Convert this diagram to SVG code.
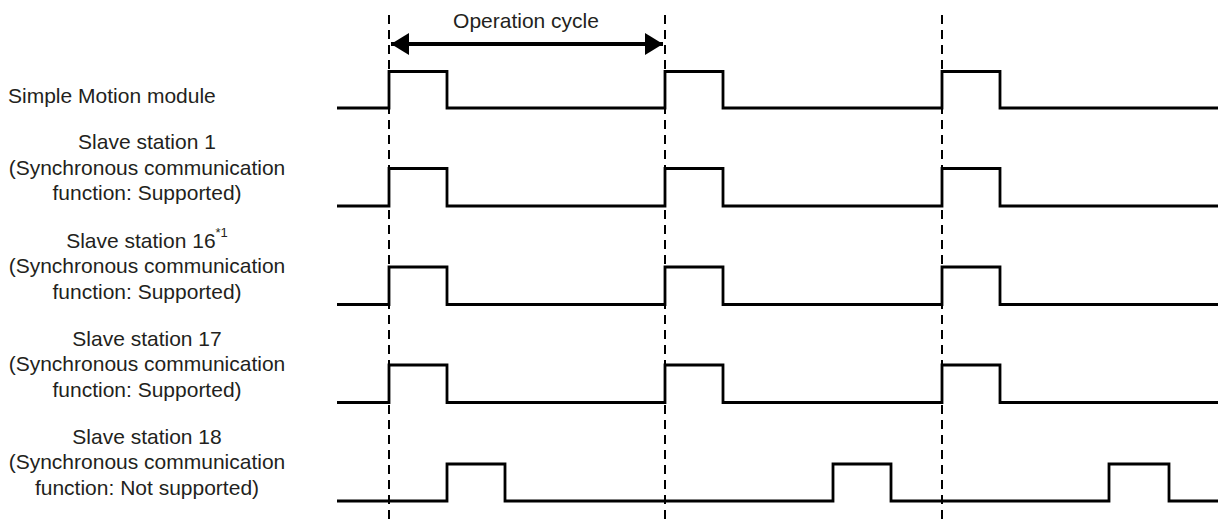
<svg xmlns="http://www.w3.org/2000/svg" width="1219" height="520" viewBox="0 0 1219 520">
<style>
.lbl{font-family:"Liberation Sans",Arial,sans-serif;font-size:21px;fill:#231f20}
.mid{text-anchor:middle}
.sig{fill:none;stroke:#000;stroke-width:2.8;stroke-linejoin:miter;stroke-linecap:butt}
.dash{fill:none;stroke:#000;stroke-width:2;stroke-dasharray:9 6}
.arr{stroke:#000;stroke-width:4}
</style>
<defs>
<marker id="ah" viewBox="0 0 18 22" refX="18" refY="11" markerWidth="18" markerHeight="22" markerUnits="userSpaceOnUse" orient="auto-start-reverse">
<path d="M0,0 L18,11 L0,22 Z" fill="#000"/>
</marker>
</defs>
<rect width="1219" height="520" fill="#fff"/>
<g id="connectors">
<line class="dash" x1="389" y1="15" x2="389" y2="520"/>
<line class="dash" x1="665" y1="15" x2="665" y2="520"/>
<line class="dash" x1="942" y1="15" x2="942" y2="520"/>
<line class="arr" x1="391" y1="44" x2="663" y2="44" marker-start="url(#ah)" marker-end="url(#ah)"/>
</g>
<g id="label-cycle"><text class="lbl mid" x="526" y="28">Operation cycle</text></g>
<g id="node-module">
<text class="lbl" x="8" y="103">Simple Motion module</text>
<path class="sig" d="M337,108 H389 V71.5 H447 V108 H665 V71.5 H723 V108 H942 V71.5 H1000 V108 H1218"/>
</g>
<g id="node-slave1">
<text class="lbl mid" x="147" y="149">Slave station 1</text>
<text class="lbl mid" x="147" y="174.5">(Synchronous communication</text>
<text class="lbl mid" x="147" y="200">function: Supported)</text>
<path class="sig" d="M337,206 H389 V168.5 H447 V206 H665 V168.5 H723 V206 H942 V168.5 H1000 V206 H1218"/>
</g>
<g id="node-slave16">
<text class="lbl mid" x="147" y="247.5">Slave station 16<tspan font-size="13" dy="-11">*1</tspan></text>
<text class="lbl mid" x="147" y="273">(Synchronous communication</text>
<text class="lbl mid" x="147" y="298.5">function: Supported)</text>
<path class="sig" d="M337,304.5 H389 V267 H447 V304.5 H665 V267 H723 V304.5 H942 V267 H1000 V304.5 H1218"/>
</g>
<g id="node-slave17">
<text class="lbl mid" x="147" y="345.5">Slave station 17</text>
<text class="lbl mid" x="147" y="371">(Synchronous communication</text>
<text class="lbl mid" x="147" y="396.5">function: Supported)</text>
<path class="sig" d="M337,402.5 H389 V365 H447 V402.5 H665 V365 H723 V402.5 H942 V365 H1000 V402.5 H1218"/>
</g>
<g id="node-slave18">
<text class="lbl mid" x="147" y="443.5">Slave station 18</text>
<text class="lbl mid" x="147" y="469">(Synchronous communication</text>
<text class="lbl mid" x="147" y="494.5">function: Not supported)</text>
<path class="sig" d="M337,501 H447 V464 H505 V501 H833 V464 H891 V501 H1109 V464 H1169 V501 H1218"/>
</g>
</svg>
